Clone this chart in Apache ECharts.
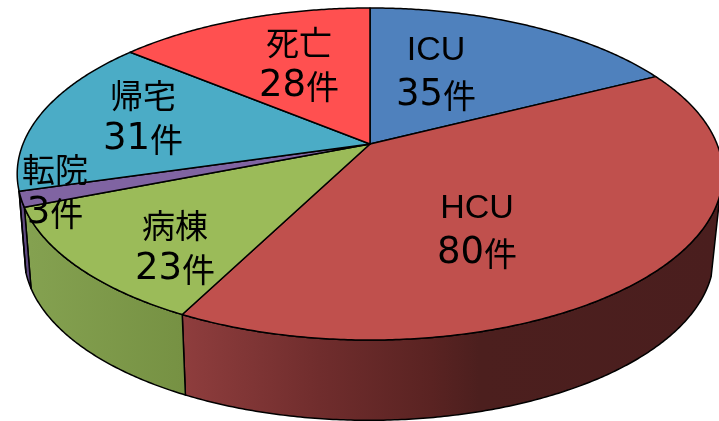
<!DOCTYPE html>
<html><head><meta charset="utf-8">
<style>html,body{margin:0;padding:0;background:#fff}#c{width:719px;height:421px}</style>
<script src="https://cdn.jsdelivr.net/npm/echarts@6/dist/echarts.min.js"></script>
</head><body><div id="c"></div>
<script>
const categories = ['ICU', 'HCU', '病棟', '転院', '帰宅', '死亡'];
const values = [35, 80, 23, 3, 31, 28];
const unit = '件';
const faceColors = ['#4f81bd', '#c0504d', '#9bbb59', '#8064a2', '#4bacc6', '#ff5050'];

// projective view of the disc (a circle seen in perspective)
const topRim = {x0: 370, y0: 144, a: 347, b: 160.6, k: 0.1807};
const lowRim = {x0: 369, y0: 225.5, a: 339.3, b: 159.6, k: 0.1807};
const wallFrom = 107.5;      // silhouette angle on the right
const wallTo = 253.8;        // silhouette angle on the left
// label centres, in pixels, one per category
const labelAnchors = [[436, 73], [477, 231], [175, 247], [55, 191], [143, 117], [299, 64]];

const total = values.reduce((s, v) => s + v, 0);
function pt(r, deg) {
  const t = deg * Math.PI / 180, u = Math.sin(t), v = Math.cos(t), w = 1 + r.k * v;
  return [r.x0 + r.a * u / w, r.y0 - r.b * v / w];
}
function arc(r, d0, d1) {
  const out = [], n = Math.max(2, Math.ceil(Math.abs(d1 - d0) * 2));
  for (let i = 0; i <= n; i++) out.push(pt(r, d0 + (d1 - d0) * i / n));
  return out;
}
function wallFill(i) {
  if (i === 1) return new echarts.graphic.LinearGradient(186, 0, 719, 0, [
    {offset: 0, color: '#8e3d3d'}, {offset: 0.25, color: '#702d2d'},
    {offset: 0.46, color: '#5a2322'}, {offset: 0.55, color: '#4c1f1e'}, {offset: 1, color: '#4a1e1e'}], true);
  if (i === 2) return new echarts.graphic.LinearGradient(30, 0, 186, 0, [
    {offset: 0, color: '#84a150'}, {offset: 1, color: '#769143'}], true);
  return '#5f4a80';
}
const line = {stroke: '#000', lineWidth: 1.5, lineJoin: 'round'};

function renderSlice(params, api) {
  const i = params.dataIndex;
  let before = 0;
  for (let j = 0; j < i; j++) before += values[j];
  const d0 = before / total * 360, d1 = (before + api.value(1)) / total * 360;
  const children = [];
  const w0 = Math.max(d0, wallFrom), w1 = Math.min(d1, wallTo);
  if (w1 > w0) {
    const pts = arc(topRim, w0, w1).concat(arc(lowRim, w1, w0));
    children.push({type: 'polygon', shape: {points: pts},
      style: Object.assign({fill: wallFill(i)}, line)});
  }
  const face = [[topRim.x0, topRim.y0]].concat(arc(topRim, d0, d1));
  children.push({type: 'polygon', z2: 5, shape: {points: face},
    style: Object.assign({fill: faceColors[i]}, line)});
  return {type: 'group', children};
}
const rich = {
  lat: {font: '34px "Liberation Sans", sans-serif', fill: '#000', lineHeight: 44},
  num: {font: '37px "DejaVu Sans", sans-serif', fill: '#000', lineHeight: 44},
  ja: {font: '33px "Noto Sans CJK JP", sans-serif', fill: '#000', lineHeight: 44}
};
function renderLabel(params, api) {
  const i = params.dataIndex, c = labelAnchors[i], name = categories[i];
  const first = /^[A-Z]+$/.test(name) ? '{lat|' + name + '}' : '{ja|' + name + '}';
  return {type: 'text', x: c[0], y: c[1], style: {
    text: first + '\n{num|' + api.value(1) + '}{ja|' + unit + '}',
    align: 'center', verticalAlign: 'middle', rich: rich
  }};
}
const rows = categories.map((c, i) => [c, values[i]]);
const chart = echarts.init(document.getElementById('c'), null, {renderer: 'canvas'});
chart.setOption({
  animation: false,
  backgroundColor: '#fff',
  series: [
    {type: 'custom', coordinateSystem: 'none', data: rows, renderItem: renderSlice, z: 1},
    {type: 'custom', coordinateSystem: 'none', data: rows, renderItem: renderLabel, z: 2}
  ]
});
</script></body></html>
